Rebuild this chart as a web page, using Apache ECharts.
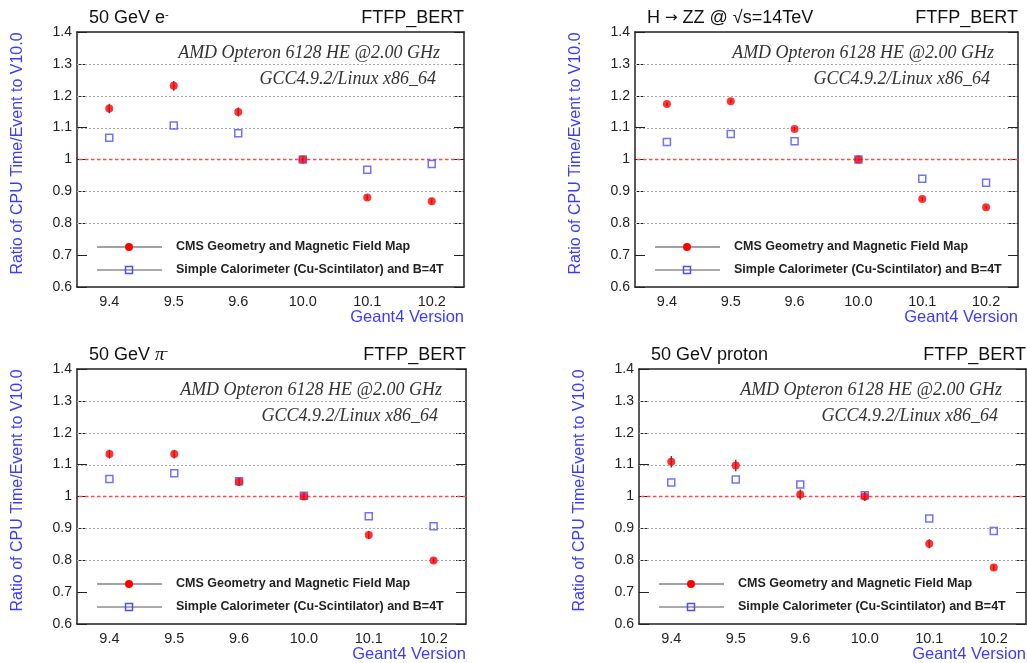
<!DOCTYPE html>
<html><head><meta charset="utf-8">
<script src="https://cdn.jsdelivr.net/npm/echarts@6/dist/echarts.min.js"></script>
<style>html,body{margin:0;padding:0;background:#fff}#c{width:1027px;height:663px}</style>
</head><body><div id="c"></div>
<script>
// ---- data ----
const categories = ['9.4', '9.5', '9.6', '10.0', '10.1', '10.2'];
const legendNames = ['CMS Geometry and Magnetic Field Map', 'Simple Calorimeter (Cu-Scintilator) and B=4T'];
const cmsElectron  = [1.160, 1.231, 1.149, 1.000, 0.881, 0.869];
const caloElectron = [1.068, 1.107, 1.082, 1.000, 0.968, 0.986];
const errElectron  = [0.015, 0.015, 0.014, 0.008, 0.008, 0.008];
const cmsHiggs  = [1.174, 1.183, 1.096, 1.000, 0.876, 0.850];
const caloHiggs = [1.055, 1.080, 1.057, 1.000, 0.940, 0.927];
const errHiggs  = [0.006, 0.006, 0.006, 0.006, 0.006, 0.006];
const cmsPion  = [1.133, 1.133, 1.046, 1.000, 0.879, 0.799];
const caloPion = [1.055, 1.073, 1.048, 1.002, 0.938, 0.907];
const errPion  = [0.014, 0.014, 0.012, 0.010, 0.012, 0.008];
const cmsProton  = [1.109, 1.097, 1.006, 1.000, 0.852, 0.777];
const caloProton = [1.044, 1.053, 1.038, 1.004, 0.931, 0.892];
const errProton  = [0.018, 0.018, 0.016, 0.014, 0.014, 0.008];
const gridValues = [0.8, 0.9, 1.1, 1.2, 1.3];
const referenceValue = 1.0;
const titles = ['50 GeV e{s|-}', 'H {a|\u2192} ZZ @ \u221As=14TeV', '50 GeV {p|\u03C0}{s|-}', '50 GeV proton'];
const physList = 'FTFP_BERT';
const cpuLine = 'AMD Opteron 6128 HE @2.00 GHz';
const gccLine = 'GCC4.9.2/Linux x86_64';
const yName = 'Ratio of CPU Time/Event to V10.0';
const xName = 'Geant4 Version';

// ---- layout ----
const SANS = "'Liberation Sans', Arial, Helvetica, sans-serif";
const SERIF = "'Liberation Serif', 'Times New Roman', serif";
const BLUE = '#3b3bff';
const MBLUE = '#4d4dff';
const RED = '#ff0000';
const frames = [
  {L: 77, T: 32, W: 387, H: 255},
  {L: 635, T: 32, W: 383, H: 255},
  {L: 77, T: 369, W: 389, H: 257},
  {L: 639, T: 369, W: 387, H: 257}
];
const sets = [
  [cmsElectron, caloElectron, errElectron],
  [cmsHiggs, caloHiggs, errHiggs],
  [cmsPion, caloPion, errPion],
  [cmsProton, caloProton, errProton]
];

const option = {
  backgroundColor: '#fff', animation: false,
  grid: [], xAxis: [], yAxis: [], series: [], graphic: []
};

frames.forEach((f, i) => {
  const [cms, calo, err] = sets[i];
  option.grid.push({left: f.L, top: f.T, width: f.W, height: f.H});
  option.xAxis.push({
    gridIndex: i, type: 'category', data: categories, position: 'bottom', boundaryGap: true,
    axisLine: {onZero: false, lineStyle: {color: '#222', width: 1.5}},
    axisTick: {inside: true, length: 6, lineStyle: {color: '#222', width: 1}},
    axisLabel: {margin: 7, fontSize: 14.5, color: '#222', fontFamily: SANS},
    splitLine: {show: false},
    name: xName, nameLocation: 'end', nameGap: 0,
    nameTextStyle: {align: 'right', verticalAlign: 'top', padding: [22, 0, 0, 0], fontSize: 16.5, color: BLUE, fontFamily: SANS}
  });
  option.xAxis.push({
    gridIndex: i, type: 'category', data: categories, position: 'top', boundaryGap: true,
    axisLine: {onZero: false, lineStyle: {color: '#222', width: 1.5}},
    axisTick: {inside: true, length: 6, lineStyle: {color: '#222', width: 1}},
    axisLabel: {show: false}, splitLine: {show: false}
  });
  option.yAxis.push({
    gridIndex: i, type: 'value', min: 0.6, max: 1.4, interval: 0.1, position: 'left',
    axisLine: {show: true, onZero: false, lineStyle: {color: '#222', width: 1.5}},
    axisTick: {show: true, inside: true, length: 10, lineStyle: {color: '#222', width: 1}},
    axisLabel: {margin: 5, fontSize: 14, color: '#222', fontFamily: SANS,
      formatter: v => Math.abs(v - 1) < 1e-9 ? '1' : v.toFixed(1)},
    splitLine: {show: false},
    name: yName, nameLocation: 'middle', nameRotate: 90, nameGap: 51,
    nameTextStyle: {fontSize: 16, color: BLUE, fontFamily: SANS, padding: [0, 0, 0, 12]}
  });
  option.yAxis.push({
    gridIndex: i, type: 'value', min: 0.6, max: 1.4, interval: 0.1, position: 'right',
    axisLine: {show: true, onZero: false, lineStyle: {color: '#222', width: 1.5}},
    axisTick: {show: true, inside: true, length: 10, lineStyle: {color: '#222', width: 1}},
    axisLabel: {show: false}, splitLine: {show: false}
  });
  const xi = 2 * i, yi = 2 * i;
  // dotted grid lines across the plot width
  option.series.push({
    id: 'grid' + i, type: 'custom', xAxisIndex: xi, yAxisIndex: yi, z: 1, silent: true,
    encode: {y: 0},
    data: gridValues.map(v => [v]),
    renderItem: (params, api) => {
      const cs = params.coordSys;
      const y = Math.round(api.coord([0, api.value(0)])[1]) + 0.5;
      return {type: 'line', shape: {x1: cs.x, y1: y, x2: cs.x + cs.width, y2: y},
        style: {stroke: '#a8a8a8', lineWidth: 1, lineDash: [2, 2]}};
    }
  });
  // red dashed reference line at 1
  option.series.push({
    id: 'refl' + i, type: 'custom', xAxisIndex: xi, yAxisIndex: yi, z: 2, silent: true,
    encode: {y: 0},
    data: [[referenceValue]],
    renderItem: (params, api) => {
      const cs = params.coordSys;
      const y = api.coord([0, api.value(0)])[1];
      const children = [];
      for (let x = cs.x + 2; x < cs.x + cs.width - 1; x += 6) {
        children.push({type: 'rect', shape: {x: x, y: y - 0.75, width: 3.5, height: 1.5}, style: {fill: '#ff4a4a'}});
      }
      return {type: 'group', children: children};
    }
  });
  option.series.push({
    id: 'err' + i, type: 'custom', xAxisIndex: xi, yAxisIndex: yi, z: 3, silent: true,
    encode: {x: 0, y: 1},
    data: cms.map((v, k) => [k, v, err[k]]),
    renderItem: (params, api) => {
      const a = api.coord([api.value(0), api.value(1) - api.value(2)]);
      const b = api.coord([api.value(0), api.value(1) + api.value(2)]);
      return {type: 'line', shape: {x1: a[0], y1: a[1], x2: b[0], y2: b[1]}, style: {stroke: '#333', lineWidth: 1.3}};
    }
  });
  option.series.push({
    id: 'calo' + i, name: legendNames[1], type: 'scatter', xAxisIndex: xi, yAxisIndex: yi, z: 4,
    symbol: 'rect', symbolSize: 7,
    itemStyle: {color: 'rgba(0,0,0,0)', borderColor: MBLUE, borderWidth: 1.5},
    data: calo.map((v, k) => [k, v])
  });
  option.series.push({
    id: 'cms' + i, name: legendNames[0], type: 'scatter', xAxisIndex: xi, yAxisIndex: yi, z: 5,
    symbol: 'circle', symbolSize: 8,
    itemStyle: {color: RED},
    data: cms.map((v, k) => [k, v])
  });
  const R = f.L + f.W;
  option.graphic.push(
    {type: 'text', x: f.L + 12, y: f.T - 14, z: 10, style: {text: titles[i], align: 'left', verticalAlign: 'middle',
      fontSize: 18, fontFamily: SANS, fill: '#111',
      rich: {s: {fontSize: 11, fontFamily: SANS, fill: '#111', verticalAlign: 'top', lineHeight: 14},
             p: {fontSize: 19, fontFamily: SERIF, fontStyle: 'italic', fill: '#111'},
             a: {fontSize: 15, fontFamily: "'DejaVu Sans', sans-serif", fill: '#111'}}}},
    {type: 'text', x: R, y: f.T - 14, z: 10, style: {text: physList, align: 'right', verticalAlign: 'middle',
      fontSize: 18, fontFamily: SANS, fill: '#111'}},
    {type: 'text', x: R - 24, y: f.T + 21, z: 10, style: {text: cpuLine, align: 'right', verticalAlign: 'middle',
      fontSize: 18, fontFamily: SERIF, fontStyle: 'italic', fill: '#333'}},
    {type: 'text', x: R - 28, y: f.T + 47, z: 10, style: {text: gccLine, align: 'right', verticalAlign: 'middle',
      fontSize: 18, fontFamily: SERIF, fontStyle: 'italic', fill: '#333'}},
    {type: 'line', z: 10, shape: {x1: f.L + 20, y1: f.T + 215, x2: f.L + 85, y2: f.T + 215}, style: {stroke: '#444', lineWidth: 1}},
    {type: 'circle', z: 11, shape: {cx: f.L + 52, cy: f.T + 215, r: 4}, style: {fill: RED}},
    {type: 'text', x: f.L + 99, y: f.T + 215, z: 10, style: {text: legendNames[0], align: 'left', verticalAlign: 'middle',
      fontSize: 12.5, fontWeight: 'bold', fontFamily: SANS, fill: '#222'}},
    {type: 'line', z: 10, shape: {x1: f.L + 20, y1: f.T + 238, x2: f.L + 85, y2: f.T + 238}, style: {stroke: '#aaa', lineWidth: 2}},
    {type: 'rect', z: 11, shape: {x: f.L + 48.5, y: f.T + 234.5, width: 7, height: 7}, style: {fill: 'rgba(0,0,0,0)', stroke: MBLUE, lineWidth: 1.5}},
    {type: 'text', x: f.L + 99, y: f.T + 238, z: 10, style: {text: legendNames[1], align: 'left', verticalAlign: 'middle',
      fontSize: 12.5, fontWeight: 'bold', fontFamily: SANS, fill: '#222'}}
  );
});

const chart = echarts.init(document.getElementById('c'), null, {renderer: 'canvas'});
chart.setOption(option);
</script>
</body></html>
